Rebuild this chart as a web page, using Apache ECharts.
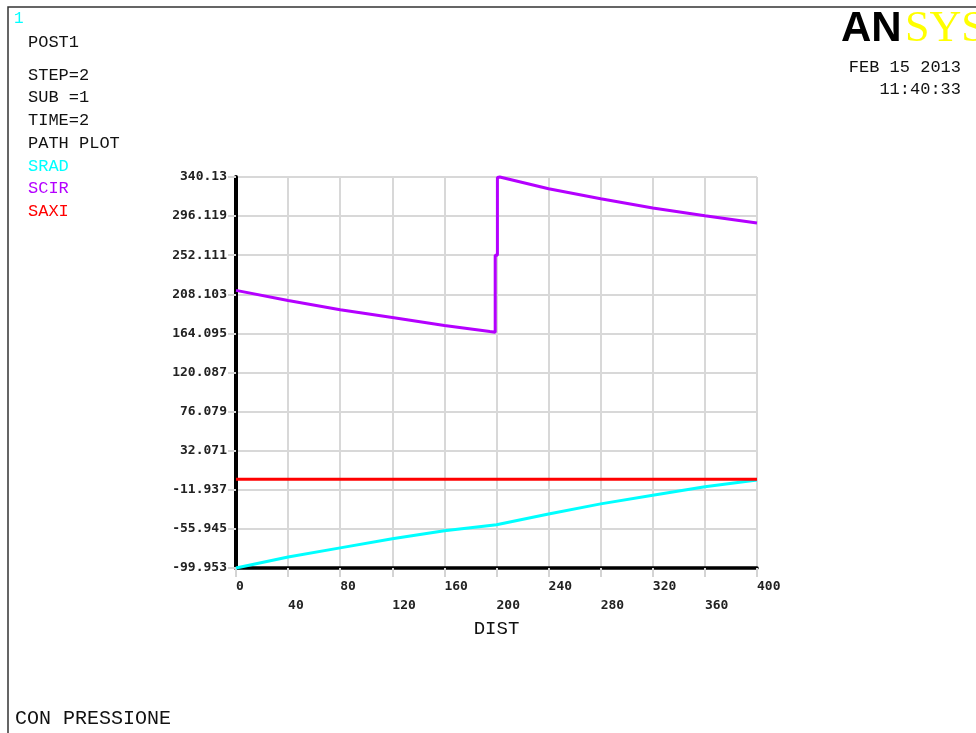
<!DOCTYPE html>
<html>
<head>
<meta charset="utf-8">
<script src="https://cdn.jsdelivr.net/npm/echarts@6/dist/echarts.min.js"></script>
<style>
html,body{margin:0;padding:0;background:#fff;}
#chart{width:976px;height:733px;}
</style>
</head>
<body>
<div id="chart"></div>
<script>
// ---- data ----
var yTickLabels = ['-99.953','-55.945','-11.937','32.071','76.079','120.087','164.095','208.103','252.111','296.119','340.13'];
var yMin = -99.953;
var yMax = 340.13;
var xTickLabels = ['0','40','80','120','160','200','240','280','320','360','400'];

var sradDist = [0, 40, 80, 120, 160, 200, 240, 280, 320, 360, 400];
var sradValues = [-99.953, -87.5, -77.3, -67.1, -58.0, -51.2, -39.2, -27.8, -18.0, -8.5, -0.8];

var scirDist = [0, 40, 80, 120, 160, 195, 199, 199, 200.7, 200.7, 202.5, 240, 280, 320, 360, 400];
var scirValues = [212.5, 201.2, 190.8, 182.1, 173.1, 166.2, 165.5, 252.1, 252.1, 339.6, 340.13, 326.9, 315.7, 305.2, 296.6, 288.3];

var saxiDist = [0, 400];
var saxiValues = [0, 0];

var infoLines = ['POST1', 'STEP=2', 'SUB =1', 'TIME=2', 'PATH PLOT'];
var seriesNames = ['SRAD', 'SCIR', 'SAXI'];
var seriesColors = ['#00ffff', '#b400ff', '#ff0000'];

function pairs(xs, ys) { return xs.map(function (x, i) { return [x, ys[i]]; }); }

var yStep = (yMax - yMin) / 10;
var mono = '"Liberation Mono", "Courier New", monospace';
var tickFont = '"DejaVu Sans Mono", monospace';

var graphics = [
  { type: 'polyline', shape: { points: [[8, 733], [8, 7], [976, 7]] }, style: { stroke: '#333', lineWidth: 1.5, fill: null }, silent: true },
  { type: 'text', x: 14, y: 19, style: { text: '1', font: '16px ' + mono, fill: '#00ffff', verticalAlign: 'middle' } },
  { type: 'text', x: 841, y: 29, style: { text: 'AN', font: 'bold 42px "Liberation Sans", Arial', fill: '#000', verticalAlign: 'middle' } },
  { type: 'text', x: 905, y: 29, style: { text: 'SYS', font: '44px "Liberation Serif", serif', fill: '#ffff00', verticalAlign: 'middle' } },
  { type: 'text', x: 961, y: 67, style: { text: 'FEB 15 2013', font: '17px ' + mono, fill: '#111', align: 'right', verticalAlign: 'middle' } },
  { type: 'text', x: 961, y: 89, style: { text: '11:40:33', font: '17px ' + mono, fill: '#111', align: 'right', verticalAlign: 'middle' } },
  { type: 'text', x: 15, y: 719, style: { text: 'CON PRESSIONE', font: '20px ' + mono, fill: '#111', verticalAlign: 'middle' } }
];
var infoY = [42, 75, 97, 120, 143];
infoLines.forEach(function (t, i) {
  graphics.push({ type: 'text', x: 28, y: infoY[i], style: { text: t, font: '17px ' + mono, fill: '#111', verticalAlign: 'middle' } });
});
var legY = [166, 188, 211];
seriesNames.forEach(function (t, i) {
  graphics.push({ type: 'text', x: 28, y: legY[i], style: { text: t, font: '17px ' + mono, fill: seriesColors[i], verticalAlign: 'middle' } });
});

var chart = echarts.init(document.getElementById('chart'), null, { renderer: 'canvas' });
chart.setOption({
  animation: false,
  backgroundColor: '#fff',
  grid: { left: 236, top: 177, right: 219, bottom: 165, containLabel: false },
  xAxis: {
    type: 'value', min: 0, max: 400, interval: 40,
    name: 'DIST', nameLocation: 'middle', nameGap: 44,
    nameTextStyle: { fontFamily: mono, fontSize: 19, color: '#111' },
    axisLine: { show: true, onZero: false, lineStyle: { color: '#000', width: 3.5 } },
    axisTick: { show: true, length: 9, lineStyle: { color: '#d4d4d4', width: 2 } },
    splitLine: { show: true, lineStyle: { color: '#d8d8d8', width: 2 } },
    axisLabel: {
      show: true, margin: 9, align: 'left', verticalAlign: 'top', lineHeight: 19,
      fontFamily: tickFont, fontWeight: 'bold', fontSize: 13, color: '#222',
      showMinLabel: true, showMaxLabel: true,
      formatter: function (v) {
        var i = Math.round(v / 40);
        var s = xTickLabels[i] || String(v);
        return (i % 2 === 1) ? '\n' + s : s;
      }
    }
  },
  yAxis: {
    type: 'value', min: yMin, max: yMax, interval: yStep,
    axisLine: { show: true, onZero: false, lineStyle: { color: '#000', width: 4 } },
    axisTick: { show: true, length: 8, lineStyle: { color: '#d4d4d4', width: 2 } },
    splitLine: { show: true, lineStyle: { color: '#d8d8d8', width: 2 } },
    axisLabel: {
      show: true, margin: 9, verticalAlign: 'middle', padding: [0, 0, 8, 0],
      fontFamily: tickFont, fontWeight: 'bold', fontSize: 13, color: '#222',
      showMinLabel: true, showMaxLabel: true,
      formatter: function (v) {
        var i = Math.round((v - yMin) / yStep);
        return yTickLabels[i] !== undefined ? yTickLabels[i] : '';
      }
    }
  },
  series: [
    { name: seriesNames[0], type: 'line', data: pairs(sradDist, sradValues), symbol: 'none', clip: false, lineStyle: { color: seriesColors[0], width: 3 } },
    { name: seriesNames[1], type: 'line', data: pairs(scirDist, scirValues), symbol: 'none', clip: false, lineStyle: { color: seriesColors[1], width: 3 } },
    { name: seriesNames[2], type: 'line', data: pairs(saxiDist, saxiValues), symbol: 'none', clip: false, lineStyle: { color: seriesColors[2], width: 3 } }
  ],
  graphic: graphics
});
</script>
</body>
</html>
